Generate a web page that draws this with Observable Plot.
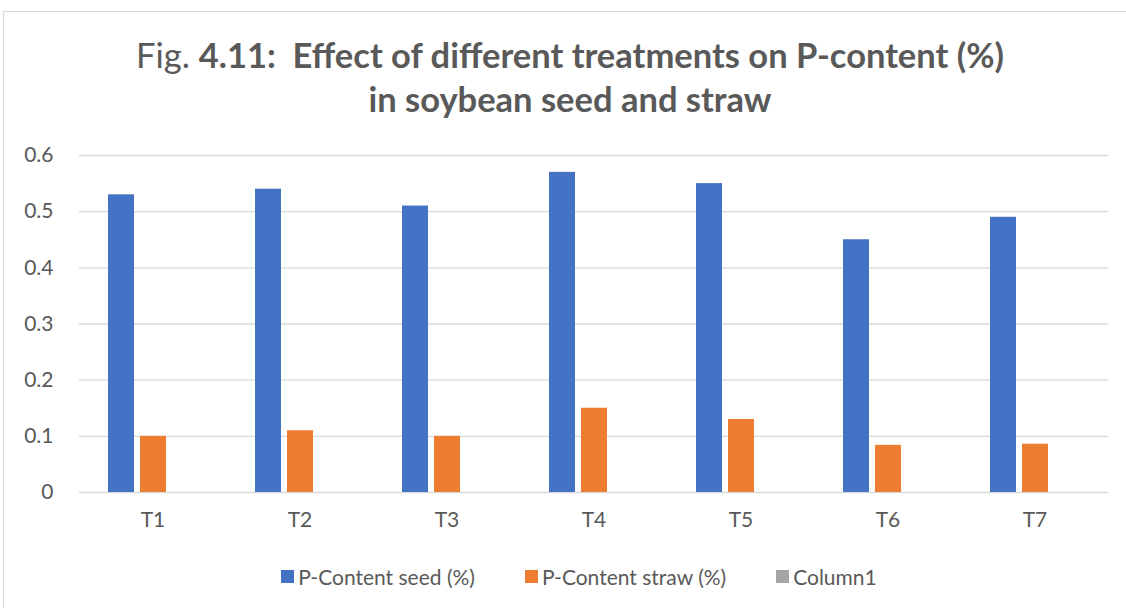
<!DOCTYPE html>
<html>
<head>
<meta charset="utf-8">
<script src="https://cdn.jsdelivr.net/npm/d3@7"></script>
<script src="https://cdn.jsdelivr.net/npm/@observablehq/plot@0.6"></script>
<style>
  html, body { margin: 0; padding: 0; background: #fff; }
  body { width: 1126px; height: 608px; position: relative; overflow: hidden; font-family: Lato, "Open Sans", sans-serif; color: #595959; }
  #frame { position: absolute; left: 3px; top: 11px; width: 1140px; height: 620px; border-left: 1px solid #d9d9d9; border-top: 1px solid #d9d9d9; }
  #title { position: absolute; left: 14px; width: 1112px; top: 33px; text-align: center; font-size: 34.5px; line-height: 44px; white-space: pre; color: #595959; }
  #title b { font-weight: 700; }
  #chart { position: absolute; left: 0; top: 130px; }
  #legend { position: absolute; left: 0; width: 1126px; top: 564px; display: flex; justify-content: center; gap: 50px; font-size: 21px; margin-left: 16px; }
  #legend span.item { display: flex; align-items: center; }
  #legend i { display: inline-block; width: 13px; height: 13px; margin-right: 4px; }
</style>
</head>
<body>
<div id="frame"></div>
<div id="title"><span>Fig. </span><b>4.11:  Effect of different treatments on P-content (%)</b>
<b>in soybean seed and straw</b></div>
<div id="chart"></div>
<div id="legend"></div>
<script>
const treatments = ["T1", "T2", "T3", "T4", "T5", "T6", "T7"];
const seriesNames = ["P-Content seed (%)", "P-Content straw (%)", "Column1"];
const seedValues = [0.53, 0.54, 0.51, 0.57, 0.55, 0.45, 0.49];
const strawValues = [0.10, 0.11, 0.10, 0.15, 0.13, 0.084, 0.086];
const column1Values = [null, null, null, null, null, null, null];
const seriesColors = ["#4472C4", "#ED7D31", "#A5A5A5"];
const yTicks = [0, 0.1, 0.2, 0.3, 0.4, 0.5, 0.6];

const allSeries = [seedValues, strawValues, column1Values];
const rows = [];
treatments.forEach((t, i) => {
  seriesNames.forEach((s, j) => {
    rows.push({ treatment: t, series: s, value: allSeries[j][i] });
  });
});

const chart = Plot.plot({
  width: 1126,
  height: 410,
  marginTop: 25,
  marginBottom: 48,
  marginLeft: 78,
  marginRight: 18,
  style: { fontFamily: "Lato, 'Open Sans', sans-serif", color: "#595959", background: "transparent" },
  fx: { domain: treatments, padding: 0, label: null, axis: null },
  x: { domain: seriesNames, paddingInner: 0.2, paddingOuter: 0.86, axis: null },
  y: { domain: [0, 0.6], label: null, axis: null },
  color: { domain: seriesNames, range: seriesColors },
  marks: [
    Plot.ruleY(yTicks, { y: d => d, stroke: "#d9d9d9", strokeWidth: 1.3 }),
    Plot.barY(rows.filter(d => d.value != null), { fx: "treatment", x: "series", y: "value", fill: "series" }),
    Plot.axisY(yTicks, { tickSize: 0, tickPadding: 26, fontSize: 21, fill: "#595959", tickFormat: d => d === 0 ? "0" : d.toFixed(1), label: null }),
    Plot.axisFx({ anchor: "bottom", tickSize: 0, tickPadding: 20, fontSize: 21, fill: "#595959", label: null })
  ]
});
document.getElementById("chart").appendChild(chart);

const legend = document.getElementById("legend");
seriesNames.forEach((s, j) => {
  const item = document.createElement("span");
  item.className = "item";
  const sw = document.createElement("i");
  sw.style.background = seriesColors[j];
  item.appendChild(sw);
  item.appendChild(document.createTextNode(s));
  legend.appendChild(item);
});
</script>
</body>
</html>
